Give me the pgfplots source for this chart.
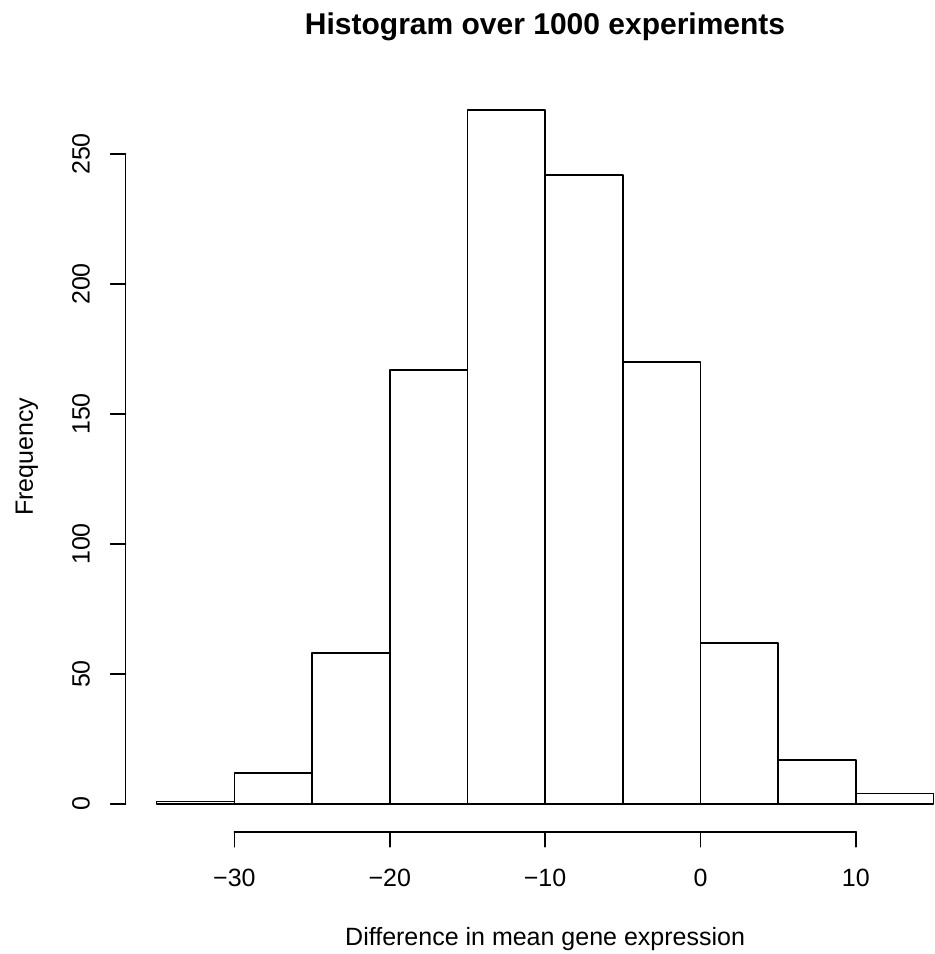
\documentclass[border=0pt]{standalone}
\usepackage{fontspec}
\setmainfont{Liberation Sans}
\usepackage{pgfplots}
\pgfplotsset{compat=1.18}
\begin{document}
\begin{tikzpicture}
\path[use as bounding box] (-60.288pt,-58.656pt) rectangle ++(448.32pt,457.92pt);
\begin{axis}[
  at={(0pt,0pt)}, anchor=south west,
  scale only axis, width=402.72pt, height=359.9pt,
  xmin=-37, xmax=17, ymin=-10.68, ymax=277.68,
  axis lines*=left, axis line style={draw=none},
  clip=false,
  font=\fontsize{12}{14}\selectfont,
  xtick={-30,-20,-10,0,10}, xticklabels={−30,−20,−10,0,10},
  ytick={0,50,100,150,200,250}, yticklabels={0,50,100,150,200,250},
  tick align=outside, major tick length=7.2pt,
  tick style={black, line width=0.75pt, line cap=round},
  xticklabel style={anchor=center},
  yticklabel style={anchor=center, rotate=90},
  xticklabel shift=14.9pt,
  yticklabel shift=14.2pt,
  title={Histogram over 1000 experiments},
  title style={at={(axis description cs:0.5,1.0467)}, anchor=base, font=\fontsize{14.4}{17}\selectfont\bfseries},
  xlabel={Difference in mean gene expression},
  xlabel style={at={(axis description cs:0.5,-0.15227)}, anchor=base},
  ylabel={Frequency},
  ylabel style={at={(axis description cs:-0.11038,0.5)}, anchor=base, rotate=0},
]
\addplot[ybar interval, draw=black, fill=white, line width=0.75pt, line join=round] coordinates {
(-35,1) (-30,12) (-25,58) (-20,167) (-15,267) (-10,242) (-5,170) (0,62) (5,17) (10,4) (15,4)
};
\draw[line width=0.75pt, line cap=round] (axis cs:-30,-10.68) -- (axis cs:10,-10.68);
\draw[line width=0.75pt, line cap=round] (axis cs:-37,0) -- (axis cs:-37,250);
\end{axis}
\end{tikzpicture}
\end{document}
